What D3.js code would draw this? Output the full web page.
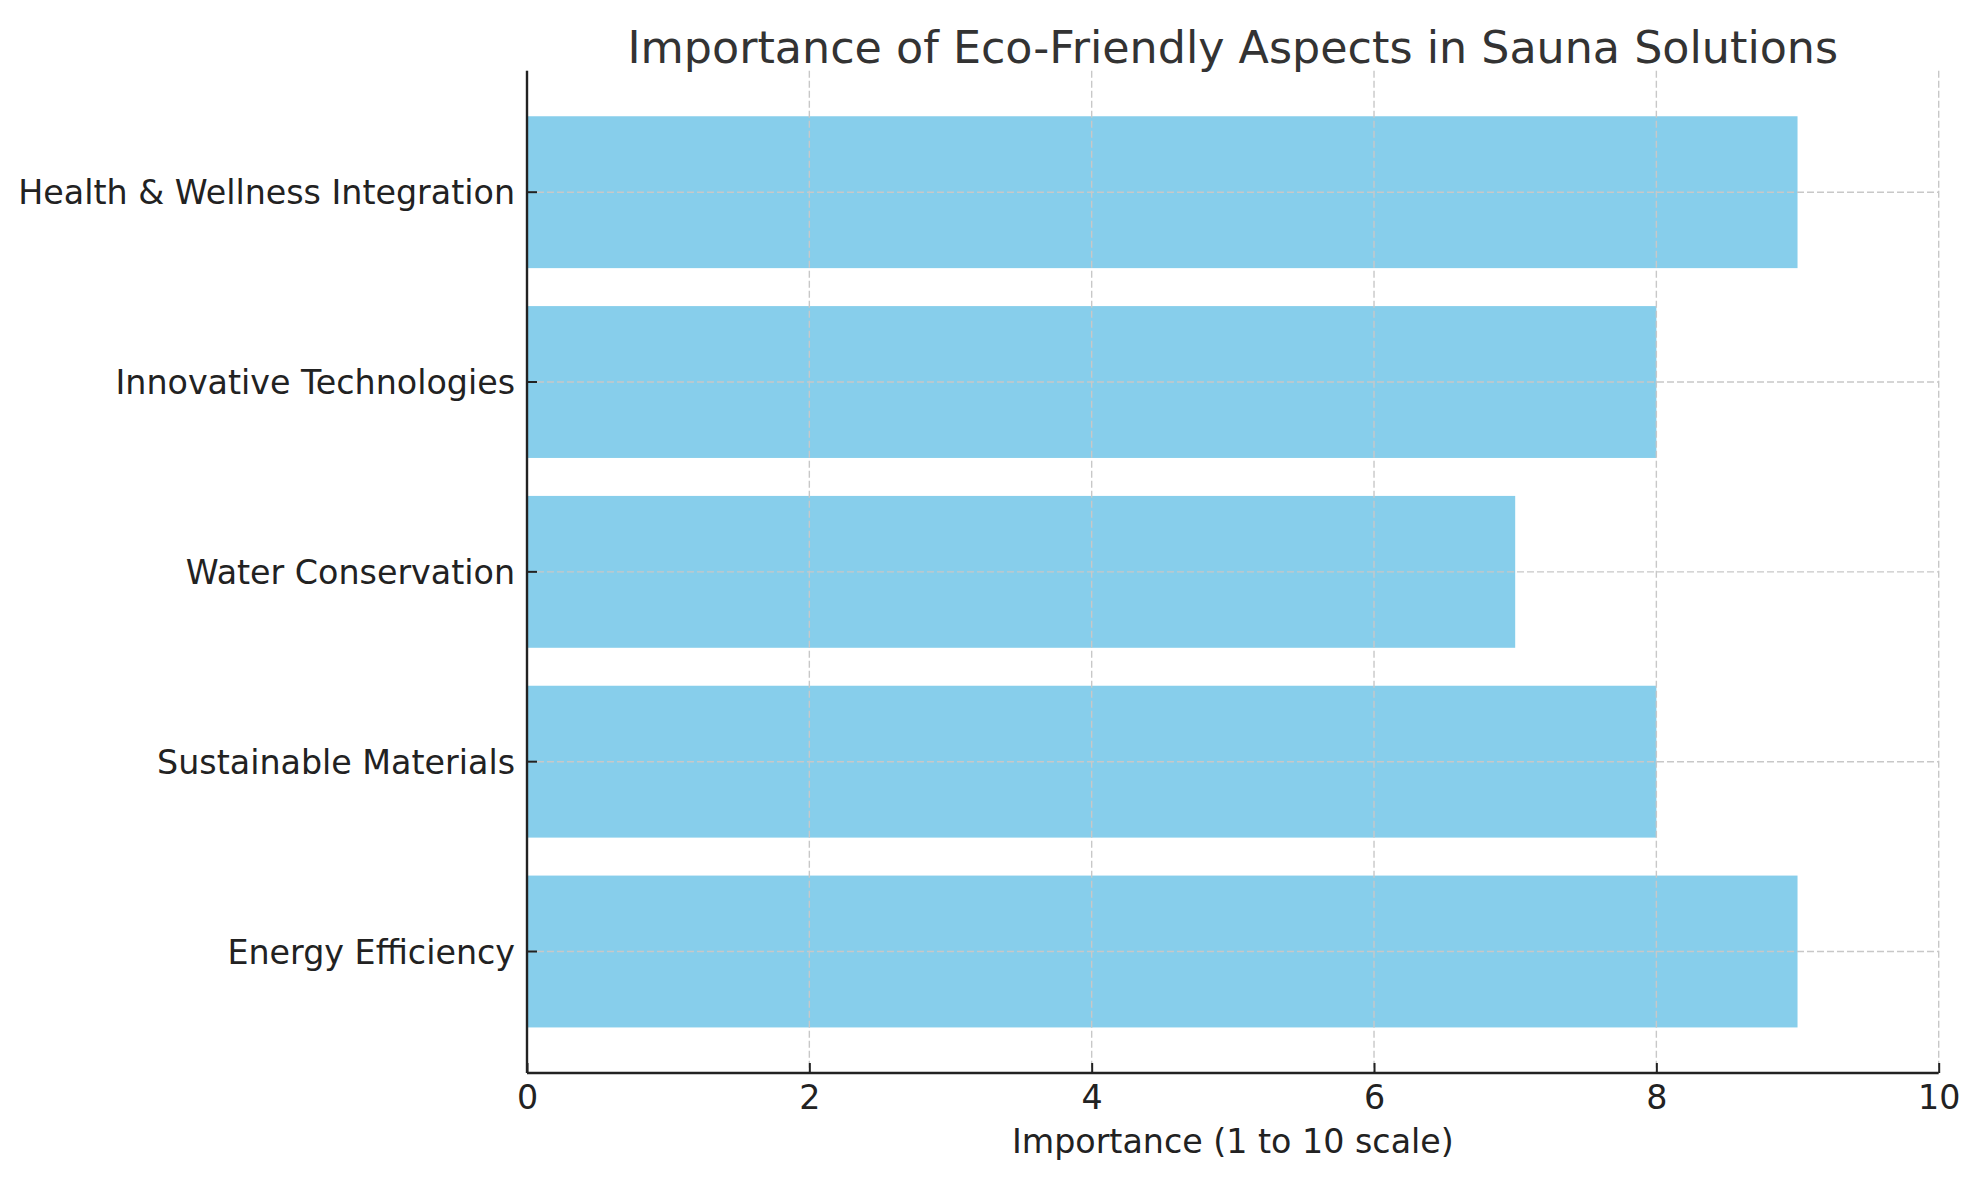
<!DOCTYPE html>
<html>
<head>
<meta charset="utf-8">
<script src="https://cdn.jsdelivr.net/npm/d3@7"></script>
<style>
  html, body { margin: 0; padding: 0; background: #fff; }
  svg { display: block; font-family: "DejaVu Sans", sans-serif; }
</style>
</head>
<body>
<svg id="chart" width="1979" height="1180"></svg>
<script>
const categories = ["Energy Efficiency", "Sustainable Materials", "Water Conservation", "Innovative Technologies", "Health & Wellness Integration"];
const importance = [9, 8, 7, 8, 9];
const xTicks = [0, 2, 4, 6, 8, 10];
const titleText = "Importance of Eco-Friendly Aspects in Sauna Solutions";
const xLabelText = "Importance (1 to 10 scale)";

(function () {
const svg = d3.select("#chart");
const pLeft = 527, pRight = 1938.7, pTop = 70.7, pBottom = 1073;

const x = d3.scaleLinear().domain([0, 10]).range([pLeft, pRight]);
// categories listed bottom-to-top
const y = d3.scaleBand().domain(categories.slice().reverse()).range([pTop, pBottom])
  .paddingInner(0.2).paddingOuter(0.24);

// bars
svg.append("g").selectAll("rect").data(categories).join("rect")
  .attr("x", x(0))
  .attr("y", d => y(d))
  .attr("width", (d, i) => x(importance[i]) - x(0))
  .attr("height", y.bandwidth())
  .attr("fill", "#87CEEB");

// grid
const grid = svg.append("g").attr("stroke", "#c8c8c8").attr("stroke-width", 1.4)
  .attr("stroke-dasharray", "7,3");
grid.selectAll("line.v").data(xTicks).join("line").attr("class", "v")
  .attr("x1", d => x(d)).attr("x2", d => x(d)).attr("y1", pTop).attr("y2", pBottom);
grid.selectAll("line.h").data(categories).join("line").attr("class", "h")
  .attr("x1", pLeft).attr("x2", pRight)
  .attr("y1", d => y(d) + y.bandwidth() / 2).attr("y2", d => y(d) + y.bandwidth() / 2);

// x axis (ticks pointing inward)
const xAxis = svg.append("g").attr("transform", `translate(0,${pBottom})`)
  .call(d3.axisBottom(x).tickValues(xTicks).tickFormat(d3.format("d")).tickSize(-10).tickPadding(12));
xAxis.select(".domain").attr("stroke", "#222").attr("stroke-width", 2.4)
  .attr("d", `M${pLeft},0H${pRight}`);
xAxis.selectAll(".tick line").attr("stroke", "#222").attr("stroke-width", 2);
xAxis.selectAll(".tick text").attr("font-size", "33.3px").attr("fill", "#222")
  .attr("font-family", "DejaVu Sans");

// y axis (ticks pointing inward)
const yAxis = svg.append("g").attr("transform", `translate(${pLeft},0)`)
  .call(d3.axisLeft(y).tickSize(-10).tickPadding(12));
yAxis.select(".domain").attr("stroke", "#222").attr("stroke-width", 2.4)
  .attr("d", `M0,${pTop}V${pBottom}`);
yAxis.selectAll(".tick line").attr("stroke", "#222").attr("stroke-width", 2);
yAxis.selectAll(".tick text").attr("font-size", "33.3px").attr("fill", "#222")
  .attr("font-family", "DejaVu Sans").attr("dy", "0.365em");

// title
svg.append("text").attr("x", (pLeft + pRight) / 2).attr("y", 63)
  .attr("text-anchor", "middle").attr("font-size", "44.4px").attr("fill", "#333")
  .text(titleText);

// x label
svg.append("text").attr("x", (pLeft + pRight) / 2).attr("y", 1153)
  .attr("text-anchor", "middle").attr("font-size", "33.3px").attr("fill", "#222")
  .text(xLabelText);
})();
</script>
</body>
</html>
